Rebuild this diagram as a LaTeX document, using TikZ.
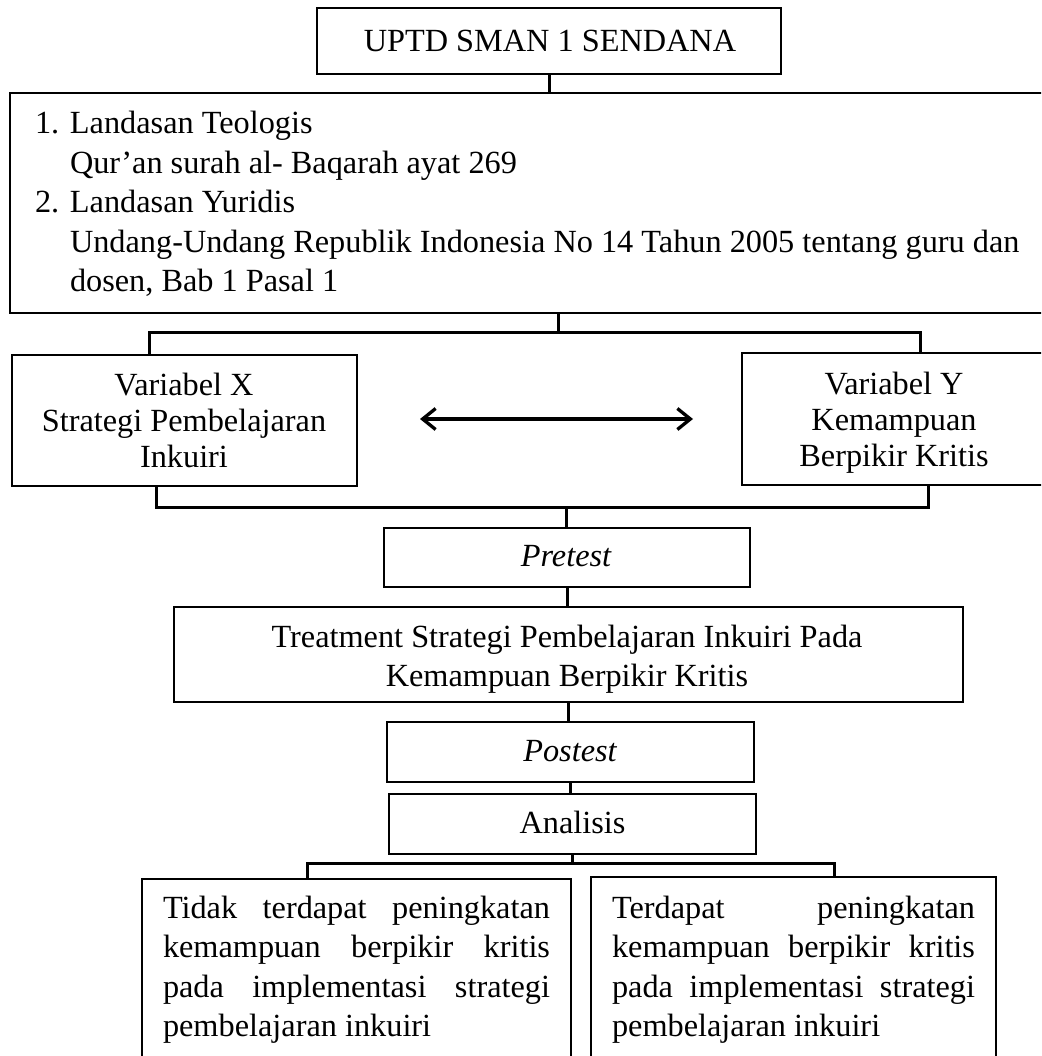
\documentclass[tikz,border=0pt]{standalone}
\usepackage{fontspec}
\setmainfont{Liberation Serif}
\usetikzlibrary{arrows.meta,calc}
\hbadness=10000 \hfuzz=20pt
\begin{document}
\begin{tikzpicture}[x=1pt,y=-1pt,
  box/.style={draw, line width=2.2pt, inner sep=0pt, outer sep=0pt, rectangle},
  conn/.style={line width=3pt},
  dblarrow/.style={line width=3.3pt, {Straight Barb[length=13pt,width=21pt]}-{Straight Barb[length=13pt,width=21pt]}},
  txt/.style={inner sep=0pt, outer sep=0pt, anchor=base, font=\fontsize{32.3}{39.5}\selectfont},
  txtw/.style={inner sep=0pt, outer sep=0pt, anchor=base west, font=\fontsize{32.3}{39.5}\selectfont}]
\useasboundingbox (0,0) rectangle (1041,1056);
\clip (0,0) rectangle (1041,1056);

% boxes
\node[box, minimum width=464pt, minimum height=66pt] (top) at (549,41) {};
\node[box, minimum width=1036pt, minimum height=220pt] (big) at (528,203) {};
\node[box, minimum width=345pt, minimum height=131pt] (varX) at (184.5,420.5) {};
\node[box, minimum width=304pt, minimum height=132pt] (varY) at (894,419) {};
\node[box, minimum width=366pt, minimum height=59pt] (pre) at (567,557.5) {};
\node[box, minimum width=789pt, minimum height=95pt] (treat) at (568.5,654.5) {};
\node[box, minimum width=367pt, minimum height=60pt] (post) at (570.5,752) {};
\node[box, minimum width=367pt, minimum height=60pt] (anal) at (572.5,824) {};
\node[box, minimum width=429pt, minimum height=221pt] (botL) at (356.5,989.5) {};
\node[box, minimum width=405pt, minimum height=223pt] (botR) at (793.5,988.5) {};

% texts
\node[txt] (ttop) at (550,51.5) {UPTD SMAN 1 SENDANA};
\node[txtw] (tbig) at (35,134) {\parbox[t]{1000pt}{\fontsize{32.3}{39.5}\selectfont
  \makebox[35pt][l]{1.}Landasan Teologis\\
  \hspace*{35pt}Qur’an surah al- Baqarah ayat 269\\
  \makebox[35pt][l]{2.}Landasan Yuridis\\
  \hspace*{35pt}Undang-Undang Republik Indonesia No 14 Tahun 2005 tentang guru dan\\
  \hspace*{35pt}dosen, Bab 1 Pasal 1}};
\node[txt] (tvarX) at (184,395.5) {\parbox[t]{340pt}{\centering\fontsize{32.3}{36}\selectfont
  Variabel X\\Strategi Pembelajaran\\Inkuiri}};
\node[txt] (tvarY) at (894,394) {\parbox[t]{300pt}{\centering\fontsize{32.3}{36}\selectfont
  Variabel Y\\Kemampuan\\Berpikir Kritis}};
\node[txt] (tpre) at (566,566.5) {\itshape Pretest};
\node[txt] (ttreat) at (567,647) {\parbox[t]{780pt}{\centering\fontsize{32.3}{39}\selectfont
  Treatment Strategi Pembelajaran Inkuiri Pada\\Kemampuan Berpikir Kritis}};
\node[txt] (tpost) at (570,761.5) {\itshape Postest};
\node[txt] (tanal) at (572.5,833) {Analisis};
\node[txtw] (tbotL) at (163,918) {\parbox[t]{387pt}{\fontsize{32.3}{39.6}\selectfont
  Tidak terdapat peningkatan\linebreak kemampuan berpikir kritis\linebreak
  pada implementasi strategi\linebreak pembelajaran inkuiri}};
\node[txtw] (tbotR) at (612,918) {\parbox[t]{363pt}{\fontsize{32.3}{39.6}\selectfont
  Terdapat peningkatan\linebreak kemampuan berpikir kritis\linebreak
  pada implementasi strategi\linebreak pembelajaran inkuiri}};

% connectors
\coordinate (j1) at (558,332);
\coordinate (j1l) at (149,332);
\coordinate (j1r) at (920,332);
\coordinate (j2) at (566,507);
\coordinate (j2l) at (156,507);
\coordinate (j2r) at (928,507);
\coordinate (j3) at (572,863);
\coordinate (j3l) at (307,863);
\coordinate (j3r) at (834,863);
\coordinate (aL) at (420,419);
\coordinate (aR) at (693,419);

\draw[conn] (top.south) -- (top.south |- big.north);
\draw[conn] (j1 |- big.south) -- (j1);
\draw[conn] (j1l |- varX.north) -- (j1l) -- (j1r) -- (j1r |- varY.north);
\draw[conn] (j2l |- varX.south) -- (j2l) -- (j2r) -- (j2r |- varY.south);
\draw[conn] (j2) -- (j2 |- pre.north);
\draw[conn] (pre.south) -- (pre.south |- treat.north);
\draw[conn] (treat.south) -- (treat.south |- post.north);
\draw[conn] (post.south) -- (post.south |- anal.north);
\draw[conn] (anal.south) -- (anal.south |- j3);
\draw[conn] (j3l |- botL.north) -- (j3l) -- (j3r) -- (j3r |- botR.north);
\draw[dblarrow] (aL) -- (aR);
\end{tikzpicture}
\end{document}
